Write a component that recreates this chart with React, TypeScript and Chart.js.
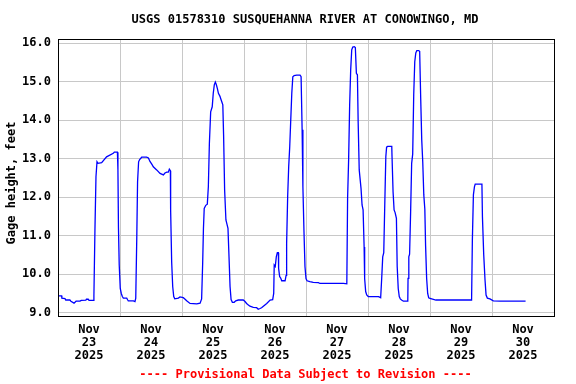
import React, { useEffect, useRef } from 'react';
import { Chart, registerables } from 'chart.js';

Chart.register(...registerables);

const TITLE = 'USGS 01578310 SUSQUEHANNA RIVER AT CONOWINGO, MD';
const Y_LABEL = 'Gage height, feet';
const FOOTNOTE = '---- Provisional Data Subject to Revision ----';
const MONTH = 'Nov';
const YEAR = '2025';
const DAY_LABELS = ['23', '24', '25', '26', '27', '28', '29', '30'];
const Y_TICKS = [9, 10, 11, 12, 13, 14, 15, 16];

// hours since Nov 23 2025 00:00
const HOURS = [
  0, 1.4, 1.5, 2.7, 3.0, 4.6, 5.0, 6.2, 7.0, 8.5, 9.0, 10.8, 11.0, 11.7, 12.0, 13.7,
  13.9, 14.3, 14.7, 15.1, 15.5, 16.9, 18.8, 21.4, 21.8, 23.0, 23.2, 23.4, 23.7, 24.1,
  24.5, 24.9, 25.3, 26.6, 27.0, 27.2, 29.2, 29.8, 30.1, 30.5, 30.8, 31.2, 31.6, 32.4,
  34.3, 35.0, 35.6, 36.3, 36.9, 38.2, 39.5, 40.8, 41.4, 42.1, 42.7, 43.1, 43.5, 43.6,
  44.0, 44.4, 44.8, 45.2, 46.6, 47.2, 48.5, 49.2, 49.8, 51.1, 53.7, 55.0, 55.6, 56.0,
  56.3, 56.6, 57.2, 57.8, 58.2, 58.6, 59.1, 59.7, 60.1, 60.5, 60.9, 61.3, 61.7, 62.1,
  62.7, 63.0, 63.4, 63.8, 64.1, 64.5, 65.0, 65.4, 65.8, 66.2, 66.6, 67.0, 67.5, 68.2,
  68.8, 69.8, 71.7, 72.4, 73.0, 73.7, 74.3, 75.6, 76.9, 77.5, 78.2, 78.8, 79.5, 80.8,
  82.1, 83.1, 83.5, 83.7, 84.1, 84.5, 84.9, 85.3, 85.4, 85.8, 86.2, 86.6, 87.9, 88.3,
  88.5, 88.9, 89.3, 89.7, 90.1, 90.5, 90.9, 91.4, 92.4, 93.7, 94.1, 94.5, 94.8, 95.2,
  95.6, 96.0, 96.4, 97.5, 98.8, 100.8, 101.4, 110.5, 111.8, 112.1, 112.5, 112.9, 113.3,
  113.7, 114.1, 114.7, 115.1, 115.5, 115.9, 116.2, 116.6, 116.9, 117.3, 117.7, 118.1,
  118.5, 118.7, 119.1, 119.5, 120.1, 124.0, 124.3, 124.9, 125.3, 125.7, 126.1, 126.5,
  126.9, 127.2, 127.6, 129.2, 129.3, 129.7, 130.1, 130.5, 131.0, 131.3, 131.7, 132.1,
  132.5, 133.0, 133.7, 135.4, 135.5, 135.8, 136.1, 136.5, 136.9, 137.3, 137.7, 138.1,
  138.5, 138.9, 139.6, 140.0, 140.4, 140.8, 141.2, 141.6, 142.0, 142.3, 142.7, 143.1,
  143.5, 144.0, 146.3, 160.1, 160.4, 160.8, 161.2, 161.5, 164.1, 164.3, 164.8, 165.3,
  165.7, 166.2, 167.2, 168.5, 171.1, 181.0,
];

const GAGE = [
  9.44, 9.44, 9.38, 9.37, 9.33, 9.33, 9.30, 9.25, 9.30, 9.30, 9.32, 9.33, 9.35, 9.35, 9.32, 9.32,
  9.44, 11.15, 12.53, 12.92, 12.88, 12.90, 13.05, 13.14, 13.17, 13.17, 12.71, 11.23, 10.24, 9.63,
  9.50, 9.42, 9.38, 9.38, 9.33, 9.31, 9.31, 9.29, 9.38, 10.97, 12.40, 12.92, 12.98, 13.04,
  13.04, 13.02, 12.93, 12.86, 12.79, 12.71, 12.62, 12.58, 12.63, 12.65, 12.65, 12.73, 12.69, 11.67,
  10.32, 9.68, 9.42, 9.36, 9.38, 9.41, 9.39, 9.35, 9.31, 9.24, 9.23, 9.25, 9.36, 10.28,
  11.19, 11.71, 11.79, 11.82, 12.27, 13.40, 14.22, 14.35, 14.70, 14.92, 14.99, 14.92, 14.82, 14.70,
  14.62, 14.56, 14.48, 14.40, 13.62, 12.19, 11.41, 11.30, 11.19, 10.45, 9.68, 9.34, 9.27, 9.27,
  9.31, 9.33, 9.33, 9.29, 9.24, 9.20, 9.17, 9.14, 9.13, 9.09, 9.11, 9.13, 9.17, 9.24,
  9.33, 9.34, 9.50, 10.24, 10.20, 10.45, 10.56, 10.56, 10.15, 9.94, 9.90, 9.83, 9.83, 9.97,
  10.80, 12.01, 12.79, 13.31, 14.01, 14.70, 15.13, 15.16, 15.17, 15.17, 15.13, 13.75, 12.27, 11.15,
  10.20, 9.89, 9.83, 9.81, 9.79, 9.78, 9.76, 9.76, 9.75, 11.97, 12.97, 14.40, 15.31,
  15.83, 15.90, 15.91, 15.89, 15.22, 15.18, 13.92, 12.71, 12.71, 12.23, 11.80, 11.67,
  10.71, 9.89, 9.55, 9.46, 9.42, 9.42, 9.41, 9.39, 9.89, 10.45, 10.56, 11.84,
  13.05, 13.30, 13.32, 13.32, 13.06, 12.14, 11.67, 11.60, 11.45, 10.20, 9.63, 9.42,
  9.36, 9.33, 9.30, 9.30, 9.89, 10.45, 10.52, 11.62, 12.88, 13.12, 14.66, 15.52,
  15.75, 15.81, 15.81, 15.79, 14.57, 13.49, 12.90, 12.06, 11.69, 10.73, 9.89, 9.50,
  9.39, 9.37, 9.33, 9.33, 10.89, 12.06, 12.27, 12.34, 12.34, 11.49, 10.50, 9.85,
  9.46, 9.38, 9.36, 9.31, 9.30, 9.30,
];

const FONT_FAMILY = "'DejaVu Sans Mono', monospace";

const decorPlugin = {
  id: 'decor',
  afterDraw(chart: any) {
    const { ctx, chartArea } = chart;
    ctx.save();
    ctx.strokeStyle = '#000000';
    ctx.lineWidth = 1;
    ctx.strokeRect(
      chartArea.left + 0.5,
      chartArea.top + 0.5,
      chartArea.right - chartArea.left,
      chartArea.bottom - chartArea.top
    );
    ctx.fillStyle = '#000000';
    ctx.font = `bold 12px ${FONT_FAMILY}`;
    ctx.textAlign = 'center';
    ctx.textBaseline = 'middle';
    ctx.fillText(TITLE, 305, 20);
    ctx.save();
    ctx.translate(12, 183);
    ctx.rotate(-Math.PI / 2);
    ctx.fillText(Y_LABEL, 0, 0);
    ctx.restore();
    ctx.fillStyle = '#ff0000';
    ctx.fillText(FOOTNOTE, 305.5, 375);
    ctx.restore();
  },
};

export default function App() {
  const canvasRef = useRef<HTMLCanvasElement | null>(null);

  useEffect(() => {
    const canvas = canvasRef.current;
    if (!canvas) return;
    const points = HOURS.map((h, i) => ({ x: h, y: GAGE[i] }));
    const chart = new Chart(canvas, {
      type: 'line',
      data: {
        datasets: [
          {
            data: points,
            borderColor: '#0000ff',
            borderWidth: 1.3,
            pointRadius: 0,
            tension: 0,
            fill: false,
          },
        ],
      },
      options: {
        animation: false,
        responsive: false,
        maintainAspectRatio: false,
        devicePixelRatio: 1,
        layout: { padding: { top: 39, right: 22, left: 0, bottom: 0 } },
        plugins: {
          legend: { display: false },
          tooltip: { enabled: false },
          title: { display: false },
        },
        scales: {
          x: {
            type: 'linear',
            min: 0,
            max: 192,
            afterBuildTicks: (s: any) => {
              const t = [];
              for (let v = 12; v <= 180; v += 12) t.push({ value: v });
              s.ticks = t;
            },
            afterFit: (s: any) => {
              s.height = 68;
            },
            grid: {
              color: (c: any) =>
                c.tick && c.tick.value % 24 === 0 ? '#c8c8c8' : 'rgba(0,0,0,0)',
              lineWidth: 1,
              drawTicks: false,
            },
            border: { display: false },
            ticks: {
              autoSkip: false,
              maxRotation: 0,
              minRotation: 0,
              padding: 7,
              color: '#000000',
              font: { family: FONT_FAMILY, size: 12, weight: 'bold', lineHeight: '13px' } as any,
              callback: (v: any) => {
                const n = Number(v);
                if (n % 24 === 12) {
                  const idx = (n - 12) / 24;
                  return [MONTH, DAY_LABELS[idx], YEAR];
                }
                return '';
              },
            },
          },
          y: {
            type: 'linear',
            min: 8.915,
            max: 16.11,
            afterBuildTicks: (s: any) => {
              s.ticks = Y_TICKS.map((v) => ({ value: v }));
            },
            afterFit: (s: any) => {
              s.width = 58;
            },
            grid: { color: '#c8c8c8', lineWidth: 1, drawTicks: false },
            border: { display: false },
            ticks: {
              padding: 7,
              color: '#000000',
              font: { family: FONT_FAMILY, size: 12, weight: 'bold' } as any,
              callback: (v: any) => Number(v).toFixed(1),
            },
          },
        },
      },
      plugins: [decorPlugin],
    });
    return () => chart.destroy();
  }, []);

  return (
    <div style={{ position: 'absolute', left: 0, top: 0, width: 576, height: 384, background: '#ffffff' }}>
      <canvas ref={canvasRef} width={576} height={384} style={{ width: 576, height: 384 }} />
    </div>
  );
}
